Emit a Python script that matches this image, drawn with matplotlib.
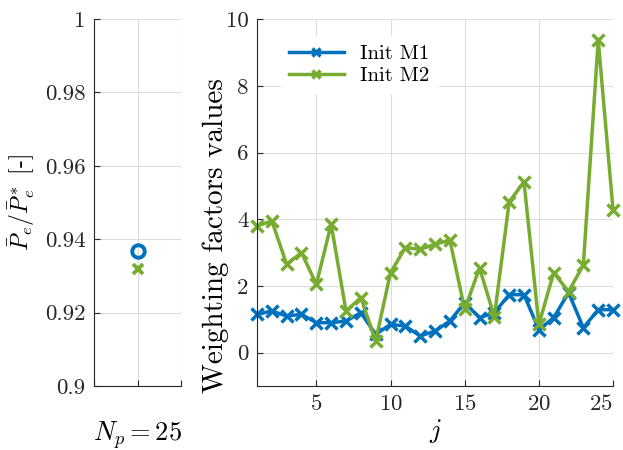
import matplotlib
matplotlib.use('Agg')
import matplotlib.pyplot as plt
from matplotlib.ticker import FuncFormatter

plt.rcParams['font.family'] = 'serif'
plt.rcParams['font.serif'] = ['cmr10']
plt.rcParams['mathtext.fontset'] = 'cm'
plt.rcParams['axes.formatter.use_mathtext'] = True
plt.rcParams['font.size'] = 16.5

# data
j = list(range(1, 26))
init_m1 = [1.15, 1.25, 1.1, 1.15, 0.9, 0.9, 0.95, 1.2, 0.55, 0.85, 0.8, 0.5, 0.65,
           0.95, 1.5, 1.05, 1.2, 1.74, 1.74, 0.69, 1.05, 1.8, 0.75, 1.29, 1.29]
init_m2 = [3.8, 3.95, 2.65, 3.0, 2.05, 3.85, 1.25, 1.65, 0.35, 2.4, 3.15, 3.1, 3.25,
           3.38, 1.3, 2.54, 1.08, 4.52, 5.12, 0.85, 2.4, 1.83, 2.63, 9.37, 4.28]
ratio_m1 = 0.9367
ratio_m2 = 0.932

blue = '#0072BD'
green = '#77AC30'
axcol = '#262626'
gridcol = '#dcdcdc'

fmt = FuncFormatter(lambda v, p: '%g' % v)

def style(ax):
    ax.grid(True, color=gridcol, linewidth=0.8)
    ax.set_axisbelow(True)
    for s in ['top', 'right']:
        ax.spines[s].set_visible(False)
    for s in ['left', 'bottom']:
        ax.spines[s].set_color(axcol)
        ax.spines[s].set_linewidth(0.8)
    ax.tick_params(direction='in', colors=axcol, length=4, width=0.8, pad=6)
    ax.yaxis.set_major_formatter(fmt)

fig = plt.figure(figsize=(6.23, 4.5), dpi=100)

ax1 = fig.add_axes([0.151, 0.142, 0.1396, 0.8156])
style(ax1)
ax1.plot([1], [ratio_m1], 'o', color=blue, markersize=9, mfc='none', mew=2.8)
ax1.plot([1], [ratio_m2], 'x', color=green, markersize=7.5, mew=2.8)
ax1.set_xlim(0, 2)
ax1.set_ylim(0.9, 1.0)
ax1.set_xticks([0, 1, 2])
ax1.set_xticklabels(['', '', ''])
ax1.set_yticks([0.9, 0.92, 0.94, 0.96, 0.98, 1.0])
ax1.set_xlabel(r'$N_p = 25$', fontsize=19, labelpad=18)
ax1.set_ylabel(r'$\bar{P}_e/\bar{P}_e^*$ [-]', fontsize=17, labelpad=6)

ax2 = fig.add_axes([0.4125, 0.142, 0.5715, 0.8156])
style(ax2)
ax2.plot(j, init_m1, '-x', color=blue, linewidth=2.5, markersize=8, mew=2.5,
         label='Init M1', clip_on=False)
ax2.plot(j, init_m2, '-x', color=green, linewidth=2.5, markersize=8, mew=2.5,
         label='Init M2', clip_on=False)
ax2.set_xlim(1, 25)
ax2.set_ylim(-1, 10)
ax2.set_xticks([5, 10, 15, 20, 25])
ax2.set_yticks([0, 2, 4, 6, 8, 10])
# keep the last tick label inside the figure
ax2.get_xticklabels()[-1].set_horizontalalignment('right')
ax2.set_xlabel(r'$j$', fontsize=19, labelpad=2)
ax2.set_ylabel('Weighting factors values', fontsize=21, labelpad=5)
ax2.yaxis.set_label_coords(-0.08, 0.41)
leg = ax2.legend(loc='upper left', fontsize=15, frameon=True, facecolor='white',
                 edgecolor='white', framealpha=1, fancybox=False, handlelength=2.6,
                 markerscale=0.7, borderaxespad=0.3, labelspacing=0.15,
                 bbox_to_anchor=(0.05, 0.97))

fig.savefig('out.png', dpi=100)
